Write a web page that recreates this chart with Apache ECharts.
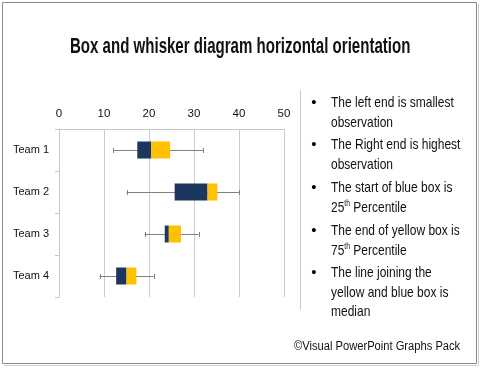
<!DOCTYPE html>
<html>
<head>
<meta charset="utf-8">
<script src="https://cdn.jsdelivr.net/npm/echarts@6/dist/echarts.min.js"></script>
<style>
html,body{margin:0;padding:0;background:#fff;}
#chart{width:480px;height:368px;}
</style>
</head>
<body>
<div id="chart"></div>
<script>
// ---- data ----
var categories = ['Team 1', 'Team 2', 'Team 3', 'Team 4'];
var minVals    = [12, 15, 19, 9];
var q1Vals     = [17.4, 25.7, 23.5, 12.7];
var medianVals = [20.5, 33, 24.4, 15];
var q3Vals     = [24.7, 35.2, 27.1, 17.2];
var maxVals    = [32, 40, 31, 21];
var xTicks     = [0, 10, 20, 30, 40, 50];

var titleText = 'Box and whisker diagram horizontal orientation';
var noteLines = [
  ['The left end is smallest', 'observation'],
  ['The Right end is highest', 'observation'],
  ['The start of blue box is', '25{sup|th} Percentile'],
  ['The end of yellow box is', '75{sup|th} Percentile'],
  ['The line joining the', 'yellow and blue box is', 'median']
];
var footerText = '\u00A9Visual PowerPoint Graphs Pack';

// ---- chart ----
var chart = echarts.init(document.getElementById('chart'), null, {renderer: 'canvas'});

var boxData = categories.map(function (c, i) {
  return [i, minVals[i], q1Vals[i], medianVals[i], q3Vals[i], maxVals[i]];
});

var NAVY = '#1B365F';
var GOLD = '#FFC000';
var WHISK = '#808080';

var graphics = [];
// frame
graphics.push({type: 'rect', shape: {x: 2.5, y: 2.5, width: 474, height: 361},
  style: {fill: null, stroke: '#8a8a8a', lineWidth: 1}, z: 100});
graphics.push({type: 'polyline', shape: {points: [[478.5, 4], [478.5, 365.5], [4, 365.5]]},
  style: {fill: null, stroke: '#cfcfcf', lineWidth: 1}, z: 100});
// separator
graphics.push({type: 'line', shape: {x1: 300.5, y1: 90, x2: 300.5, y2: 310},
  style: {stroke: '#c8c8c8', lineWidth: 1}, z: 100});
// title
graphics.push({type: 'text', x: 70, y: 47.5, scaleX: 0.70, scaleY: 1,
  style: {text: titleText, x: 0, y: 0, fill: '#111', font: 'bold 21.5px "Liberation Sans", Arial, sans-serif',
    textAlign: 'left', textVerticalAlign: 'middle'}, z: 100});
// notes
var bulletStarts = [103, 145, 188, 231, 273];
noteLines.forEach(function (lines, bi) {
  var y0 = bulletStarts[bi];
  graphics.push({type: 'text', x: 314, y: y0,
    style: {text: '\u2022', x: 0, y: 0, fill: '#000', font: '15px "Liberation Sans", Arial, sans-serif',
      textAlign: 'center', textVerticalAlign: 'middle'}, z: 100});
  lines.forEach(function (ln, li) {
    graphics.push({type: 'text', x: 331, y: y0 + li * 19.5, scaleX: 0.80, scaleY: 1,
      style: {text: ln, x: 0, y: 0, fill: '#111', font: '15px "Liberation Sans", Arial, sans-serif',
        textAlign: 'left', textVerticalAlign: 'middle',
        rich: {sup: {fontSize: 8.5, fontFamily: 'Liberation Sans', fill: '#111', padding: [0, 0, 7, 0]}}},
      z: 100});
  });
});
// footer
graphics.push({type: 'text', x: 294, y: 347, scaleX: 0.93, scaleY: 1,
  style: {text: footerText, x: 0, y: 0, fill: '#111', font: '12px "Liberation Sans", Arial, sans-serif',
    textAlign: 'left', textVerticalAlign: 'middle'}, z: 100});

var option = {
  animation: false,
  backgroundColor: '#fff',
  grid: {left: 59, right: 196, top: 129, bottom: 71, containLabel: false},
  xAxis: {
    type: 'value', position: 'top', min: xTicks[0], max: xTicks[xTicks.length - 1], interval: 10,
    axisLine: {show: true, lineStyle: {color: '#c6c6c6'}},
    axisTick: {show: false},
    axisLabel: {color: '#111', fontSize: 11.5, fontFamily: '"Liberation Sans", Arial, sans-serif', margin: 9},
    splitLine: {show: true, lineStyle: {color: '#cccccc', width: 1}}
  },
  yAxis: {
    type: 'category', data: categories, inverse: true,
    axisLine: {show: true, lineStyle: {color: '#c6c6c6'}},
    axisTick: {show: true, length: 4, lineStyle: {color: '#c6c6c6'}},
    axisLabel: {color: '#111', fontSize: 11, fontFamily: '"Liberation Sans", Arial, sans-serif', margin: 10},
    splitLine: {show: false}
  },
  series: [
    {
      type: 'custom',
      name: 'whisker',
      z: 2,
      data: boxData,
      encode: {y: 0, x: [1, 5]},
      renderItem: function (params, api) {
        var yi = api.value(0);
        var pMin = api.coord([api.value(1), yi]);
        var pMax = api.coord([api.value(5), yi]);
        var cap = 2.5;
        var st = {stroke: WHISK, lineWidth: 1};
        var y = Math.round(pMin[1]) + 0.5;
        return {type: 'group', children: [
          {type: 'line', shape: {x1: pMin[0], y1: y, x2: pMax[0], y2: y}, style: st},
          {type: 'line', shape: {x1: Math.round(pMin[0]) + 0.5, y1: y - cap, x2: Math.round(pMin[0]) + 0.5, y2: y + cap}, style: st},
          {type: 'line', shape: {x1: Math.round(pMax[0]) + 0.5, y1: y - cap, x2: Math.round(pMax[0]) + 0.5, y2: y + cap}, style: st}
        ]};
      }
    },
    {
      type: 'custom',
      name: 'box',
      z: 3,
      data: boxData,
      encode: {y: 0, x: [2, 3, 4]},
      renderItem: function (params, api) {
        var yi = api.value(0);
        var pQ1 = api.coord([api.value(2), yi]);
        var pMed = api.coord([api.value(3), yi]);
        var pQ3 = api.coord([api.value(4), yi]);
        var h = 17;
        var top = pQ1[1] - h / 2;
        return {type: 'group', children: [
          {type: 'rect', shape: {x: pQ1[0], y: top, width: pMed[0] - pQ1[0], height: h}, style: {fill: NAVY}},
          {type: 'rect', shape: {x: pMed[0], y: top, width: pQ3[0] - pMed[0], height: h}, style: {fill: GOLD}}
        ]};
      }
    }
  ],
  graphic: graphics
};
chart.setOption(option);
</script>
</body>
</html>
